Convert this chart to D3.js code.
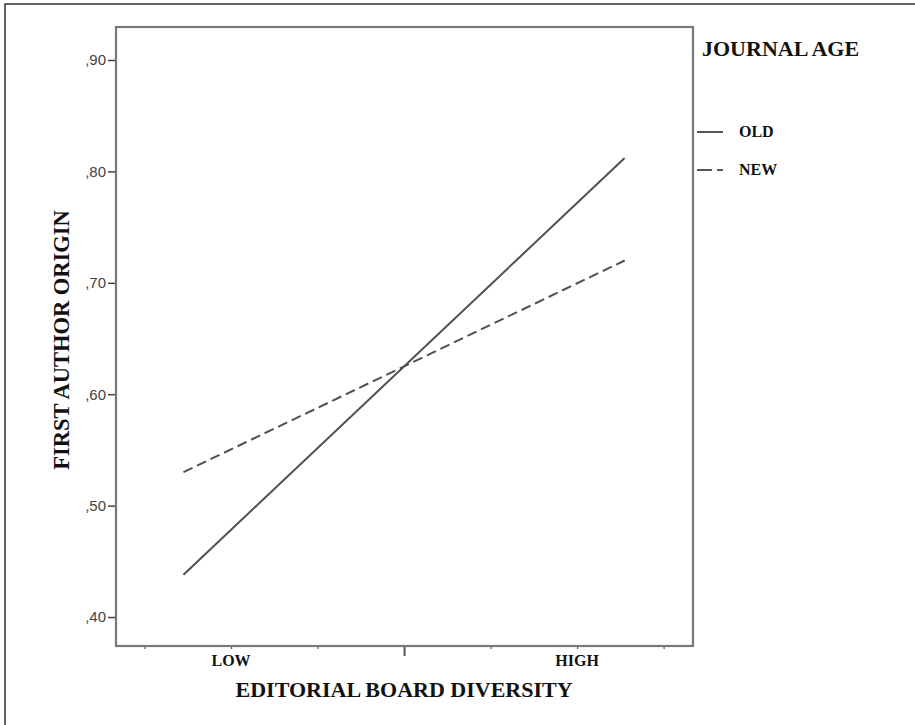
<html>
<head>
<script src="https://cdn.jsdelivr.net/npm/d3@7"></script>
<style>
  body { margin: 0; background: #fff; overflow: hidden; }
  svg { display: block; }
  .ylab text { font-family: Arial, "Liberation Sans", sans-serif; font-size: 15px; fill: #444; }
  .serif { font-family: "Liberation Serif", "Times New Roman", serif; font-weight: bold; fill: #111; }
</style>
</head>
<body>
<script>
// data
var levels = [-2.55, 2.55];            // editorial board diversity (centered)
var oldValues = [0.438, 0.812];        // journal age: OLD
var newValues = [0.530, 0.720];        // journal age: NEW
var yTicks = [0.40, 0.50, 0.60, 0.70, 0.80, 0.90];
var xTicks = [-3, -2, -1, 0, 1, 2, 3];
var xLabelPos = [-2, 2];
var xLabelText = ["LOW", "HIGH"];
var seriesNames = ["OLD", "NEW"];

var w = 915, h = 725;
var box = {left: 116, right: 693, top: 27, bottom: 646};

var svg = d3.select("body").append("svg")
    .attr("width", w)
    .attr("height", h);

/* outer border of the figure (only left and top fall inside the picture) */
svg.append("rect")
    .attr("x", 5).attr("y", 4)
    .attr("width", 930).attr("height", 740)
    .style("fill", "none").style("stroke", "#333").style("stroke-width", 1.5);

var x = d3.scaleLinear().domain([-3.33, 3.34]).range([box.left, box.right]);
var y = d3.scaleLinear().domain([0.374, 0.9296]).range([box.bottom, box.top]);

/* y axis */
var yAxis = d3.axisLeft(y)
    .tickValues(yTicks)
    .tickSize(8)
    .tickPadding(2)
    .tickFormat(function(d) { return d3.format(".2f")(d).replace("0.", ","); });

var gy = svg.append("g").attr("class", "ylab")
    .attr("transform", "translate(" + box.left + ",0)")
    .call(yAxis);
gy.select(".domain").remove();
gy.selectAll("line").style("stroke", "#444").style("stroke-width", 1.5);

/* x axis: small ticks, bigger one in the middle */
var xAxis = d3.axisBottom(x).tickValues(xTicks).tickSize(3).tickFormat("");
var gx = svg.append("g")
    .attr("transform", "translate(0," + box.bottom + ")")
    .call(xAxis);
gx.select(".domain").remove();
gx.selectAll("line")
    .style("stroke", "#555")
    .style("stroke-width", function(d) { return d === 0 ? 2 : 1.2; })
    .attr("y2", function(d) { return d === 0 ? 10 : 3; });

/* plot frame */
svg.append("rect")
    .attr("x", box.left).attr("y", box.top)
    .attr("width", box.right - box.left).attr("height", box.bottom - box.top)
    .style("fill", "none").style("stroke", "#777").style("stroke-width", 2.2);

/* LOW / HIGH labels */
svg.selectAll(".xlab")
    .data(xLabelPos)
    .enter().append("text")
    .attr("class", "serif")
    .attr("x", function(d) { return x(d); })
    .attr("y", 666)
    .attr("text-anchor", "middle")
    .style("font-size", "16px")
    .text(function(d, i) { return xLabelText[i]; });

/* axis titles */
svg.append("text")
    .attr("class", "serif")
    .attr("x", x(0)).attr("y", 697)
    .attr("text-anchor", "middle")
    .style("font-size", "22px")
    .text("EDITORIAL BOARD DIVERSITY");

svg.append("text")
    .attr("class", "serif")
    .attr("transform", "translate(69," + 340 + ") rotate(-90)")
    .attr("text-anchor", "middle")
    .style("font-size", "22.5px")
    .text("FIRST AUTHOR ORIGIN");

/* lines */
var line = d3.line()
    .x(function(d) { return x(d[0]); })
    .y(function(d) { return y(d[1]); });

var dashes = ["none", "10,5"];
[oldValues, newValues].forEach(function(vals, i) {
    svg.append("path")
        .datum(d3.zip(levels, vals))
        .attr("d", line)
        .style("fill", "none")
        .style("stroke", "#505050")
        .style("stroke-width", 2)
        .style("stroke-dasharray", dashes[i]);
});

/* legend */
svg.append("text")
    .attr("class", "serif")
    .attr("x", 702).attr("y", 56)
    .style("font-size", "22px")
    .text("JOURNAL AGE");

var leg = svg.selectAll(".leg")
    .data(seriesNames)
    .enter().append("g")
    .attr("transform", function(d, i) { return "translate(697," + (132 + i * 38) + ")"; });

leg.append("line")
    .attr("x1", 0).attr("x2", 26)
    .attr("y1", 0).attr("y2", 0)
    .style("stroke", "#555")
    .style("stroke-width", 2)
    .style("stroke-dasharray", function(d, i) { return i === 1 ? "15,5" : "none"; });

leg.append("text")
    .attr("class", "serif")
    .attr("x", 42).attr("y", 5)
    .style("font-size", "16px")
    .text(function(d) { return d; });
</script>
</body>
</html>
